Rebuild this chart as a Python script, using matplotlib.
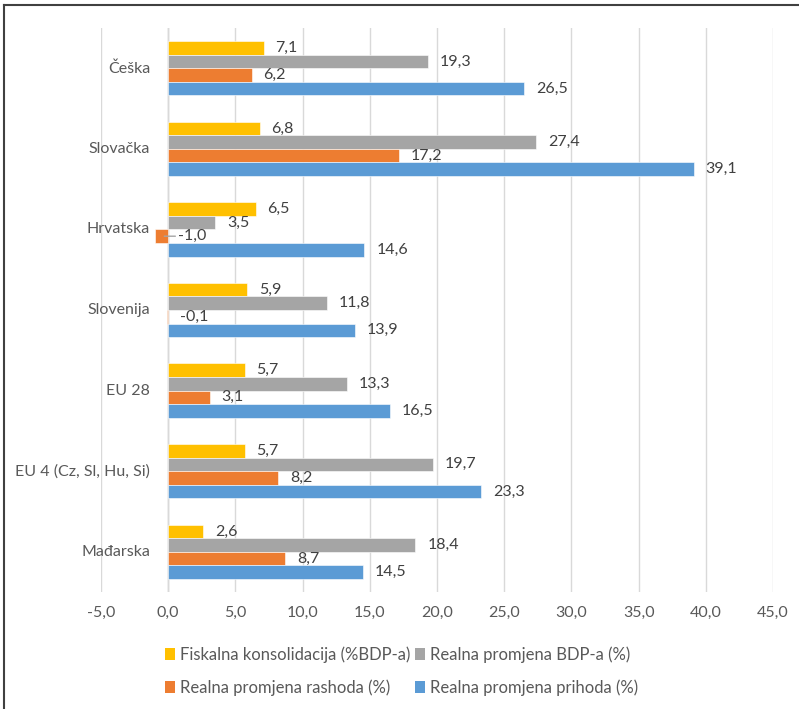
import matplotlib
matplotlib.use("Agg")
import matplotlib.pyplot as plt
from matplotlib.lines import Line2D
from matplotlib.patches import Patch

plt.rcParams["font.family"] = ["Lato", "DejaVu Sans"]

countries = ["Češka", "Slovačka", "Hrvatska", "Slovenija", "EU 28",
             "EU 4 (Cz, Sl, Hu, Si)", "Mađarska"]
fiskalna = [7.1, 6.8, 6.5, 5.9, 5.7, 5.7, 2.6]
bdp = [19.3, 27.4, 3.5, 11.8, 13.3, 19.7, 18.4]
rashodi = [6.2, 17.2, -1.0, -0.1, 3.1, 8.2, 8.7]
prihodi = [26.5, 39.1, 14.6, 13.9, 16.5, 23.3, 14.5]
series_names = ["Fiskalna konsolidacija (%BDP-a)", "Realna promjena BDP-a (%)",
                "Realna promjena rashoda (%)", "Realna promjena prihoda (%)"]
colors = ["#FFC000", "#A5A5A5", "#ED7D31", "#5B9BD5"]
xticks = [-5, 0, 5, 10, 15, 20, 25, 30, 35, 40, 45]

FS = 11.5
fig = plt.figure(figsize=(7.99, 7.09), dpi=100)
ax = fig.add_axes([101 / 799, 1 - 592 / 709, 672 / 799, 564 / 709])

h = 0.168
series = [fiskalna, bdp, rashodi, prihodi]
for k, (vals, col) in enumerate(zip(series, colors)):
    off = (k - 1.5) * h
    for i, v in enumerate(vals):
        y = i + off
        ax.barh(y, v, height=h, color=col, edgecolor="white", linewidth=0.4, zorder=3)
        lab = f"{v:.1f}".replace(".", ",")
        if v < -0.5:
            # label pushed right of the axis with a leader line, as in Excel
            ax.annotate(lab, xy=(v / 2, y), xytext=(12, 0), textcoords="offset points",
                        ha="left", va="center", fontsize=FS, color="#404040",
                        arrowprops=dict(arrowstyle="-", color="#A5A5A5", lw=1,
                                        shrinkA=0, shrinkB=2))
        else:
            ax.annotate(lab, xy=(max(v, 0), y), xytext=(8.5, 0), textcoords="offset points",
                        ha="left", va="center", fontsize=FS, color="#404040")

for i, name in enumerate(countries):
    ax.annotate(name, xy=(0, i), xytext=(-13, 0), textcoords="offset points",
                ha="right", va="center", fontsize=FS, color="#595959")

ax.set_xlim(-5, 45)
ax.set_ylim(6.5, -0.5)
ax.set_xticks(xticks)
ax.set_xticklabels([f"{t:.1f}".replace(".", ",") for t in xticks],
                   fontsize=FS, color="#595959")
ax.tick_params(axis="x", length=0, pad=10)
ax.set_yticks([])
ax.grid(axis="x", color="#D9D9D9", lw=1, zorder=0)
ax.axvline(0, color="#C8C8C8", lw=1, zorder=1)
for s in ax.spines.values():
    s.set_visible(False)

handles = [Patch(facecolor=c, edgecolor="none") for c in colors]
# column-major order so the rows read as in the original
order = [0, 2, 1, 3]
fig.legend([handles[j] for j in order], [series_names[j] for j in order],
           ncol=2, loc="center left", bbox_to_anchor=(150 / 799, 1 - 671 / 709),
           frameon=False, fontsize=12, labelcolor="#595959",
           handlelength=0.6, handleheight=0.75, handletextpad=0.3,
           columnspacing=0.3, labelspacing=1.0)

# chart-area border (top and left edges visible in the crop)
fig.add_artist(Line2D([4 / 799, 1], [1 - 5 / 709] * 2, transform=fig.transFigure,
                      color="#404040", lw=1.5))
fig.add_artist(Line2D([4 / 799] * 2, [0, 1 - 5 / 709], transform=fig.transFigure,
                      color="#404040", lw=1.5))

fig.savefig("out.png", dpi=100)
